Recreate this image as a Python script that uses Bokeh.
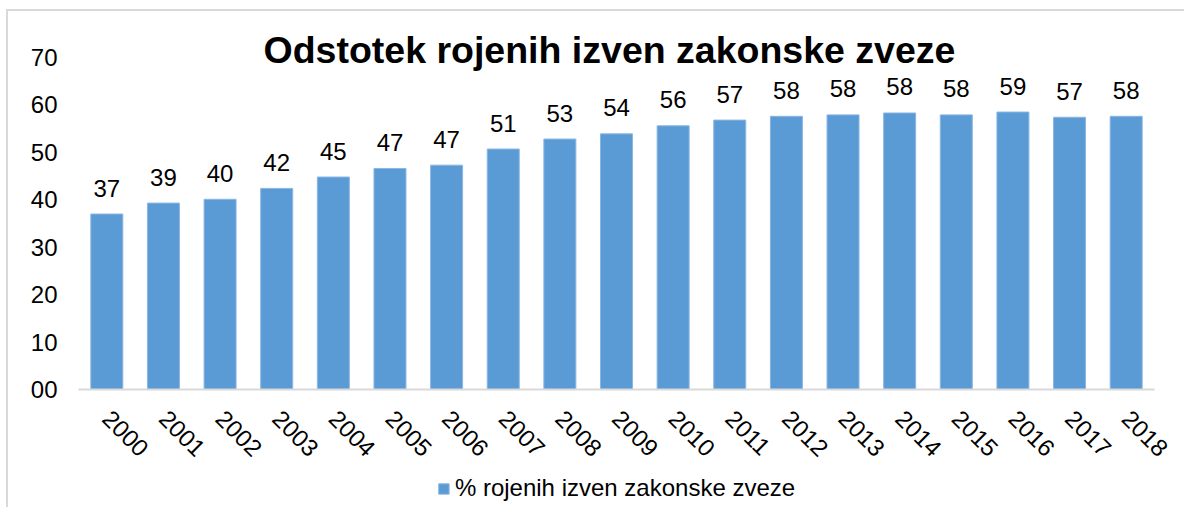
from bokeh.plotting import figure
from bokeh.models import (FactorRange, Range1d, FixedTicker, ColumnDataSource, Title,
                          Legend, LegendItem)
from bokeh.layouts import column
from bokeh.core.properties import value
from bokeh.embed import file_html
from bokeh.resources import INLINE
import math

years = [str(y) for y in range(2000, 2019)]
shares = [37.0, 39.3, 40.1, 42.4, 44.8, 46.6, 47.3, 50.7, 52.8, 53.9, 55.6, 56.8,
          57.6, 57.9, 58.3, 57.9, 58.5, 57.4, 57.6]
value_labels = ["37", "39", "40", "42", "45", "47", "47", "51", "53", "54", "56", "57",
                "58", "58", "58", "58", "59", "57", "58"]
y_ticks = [0, 10, 20, 30, 40, 50, 60, 70]
y_tick_labels = ["00", "10", "20", "30", "40", "50", "60", "70"]
title_text = "Odstotek rojenih izven zakonske zveze"
series_name = "% rojenih izven zakonske zveze"

FONT = "Liberation Sans"
BAR = "#5b9bd5"
BAR_EDGE = "#8ab6e2"

src = ColumnDataSource(dict(year=years, share=shares, lab=value_labels))

p = figure(width=1176, height=458, output_backend="svg", toolbar_location=None,
           x_range=FactorRange(*years, range_padding=0),
           y_range=Range1d(0, 70),
           min_border_left=70, min_border_right=30, min_border_top=46,
           min_border_bottom=80)
p.outline_line_color = None
p.background_fill_color = "white"
p.border_fill_color = "white"
p.xgrid.grid_line_color = None
p.ygrid.grid_line_color = None

bars = p.vbar(x="year", top="share", width=0.565, source=src,
              fill_color=BAR, line_color=BAR_EDGE, line_width=1)

p.text(x="year", y="share", text="lab", source=src, text_align="center",
       text_baseline="alphabetic", y_offset=-26, text_font=value(FONT),
       text_font_size="24px", text_color="#000000")

# y axis
p.yaxis.ticker = FixedTicker(ticks=y_ticks)
p.yaxis.major_label_overrides = {t: l for t, l in zip(y_ticks, y_tick_labels)}
p.yaxis.axis_line_color = None
p.yaxis.major_tick_line_color = None
p.yaxis.minor_tick_line_color = None
p.yaxis.major_tick_out = 0
p.yaxis.major_label_standoff = 21
p.yaxis.major_label_text_font = FONT
p.yaxis.major_label_text_font_size = "24px"
p.yaxis.major_label_text_color = "#000000"

# x axis
p.xaxis.axis_line_color = "#d9d9d9"
p.xaxis.axis_line_width = 2
p.xaxis.major_tick_line_color = None
p.xaxis.minor_tick_line_color = None
p.xaxis.major_tick_out = 0
p.xaxis.major_label_orientation = -math.pi / 4
p.xaxis.major_label_standoff = 25
p.xaxis.major_label_text_font = FONT
p.xaxis.major_label_text_font_size = "24px"
p.xaxis.major_label_text_color = "#000000"

# title overlapping the top of the plot area, as in the original
p.add_layout(Title(text=title_text, align="left", offset=185, standoff=-27,
                   text_font=FONT, text_font_size="37.5px", text_font_style="bold",
                   text_color="#000000"), "above")

# legend strip underneath the chart (key renderer is hidden, only its swatch is used)
lf = figure(width=1176, height=38, output_backend="svg", toolbar_location=None,
            x_range=FactorRange(*years, range_padding=0), y_range=Range1d(0, 70),
            min_border_left=8, min_border_right=0, min_border_top=0, min_border_bottom=0)
lf.axis.visible = False
lf.grid.visible = False
lf.outline_line_color = None
lf.background_fill_color = "white"
lf.border_fill_color = "white"
key = lf.vbar(x="year", top="share", width=0.565, source=src,
              fill_color=BAR, line_color=BAR_EDGE, line_width=1)
key.visible = False
legend = Legend(items=[LegendItem(label=series_name, renderers=[key])],
                orientation="horizontal", location="center", click_policy="none",
                label_text_font=FONT, label_text_font_size="24px",
                label_text_color="#000000", glyph_width=13, glyph_height=13,
                label_standoff=5, border_line_color=None, background_fill_alpha=0,
                margin=0, padding=0)
lf.add_layout(legend)

layout = column(p, lf, spacing=0,
                styles={"border-left": "2px solid #d9d9d9", "border-top": "2px solid #d9d9d9",
                        "margin-left": "6px", "margin-top": "9px"})

open("out.html", "w").write(file_html(layout, INLINE))
